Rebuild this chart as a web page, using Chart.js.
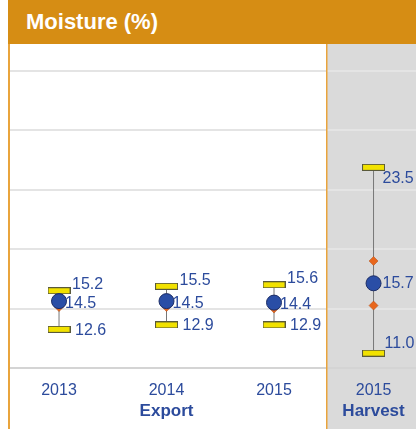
<!DOCTYPE html>
<html>
<head>
<meta charset="utf-8">
<script src="https://cdn.jsdelivr.net/npm/chart.js@4/dist/chart.umd.min.js"></script>
<style>
  html, body { margin: 0; padding: 0; background: #fff; }
  #wrap { position: relative; width: 416px; height: 429px; overflow: hidden; }
  #head {
    position: absolute; left: 8px; top: 0; width: 408px; height: 44px;
    background: #d68d14; color: #fff;
    font: bold 22px "Liberation Sans", Arial, sans-serif;
    line-height: 44px; padding-left: 18px; box-sizing: border-box;
  }
  #edge { position: absolute; left: 8px; top: 44px; width: 2px; height: 385px; background: #e9a43c; }
  #box { position: absolute; left: 10px; top: 44px; width: 406px; height: 385px; }
</style>
</head>
<body>
<div id="wrap">
  <div id="head">Moisture (%)</div>
  <div id="edge"></div>
  <div id="box"><canvas id="chart"></canvas></div>
</div>
<script>
// Moisture ranges per sample
const years = ['2013', '2014', '2015', '2015'];
const groups = ['Export', 'Harvest'];
const groupOf = [0, 0, 0, 1];
const maxVals = [15.2, 15.5, 15.6, 23.5];
const meanVals = [14.5, 14.5, 14.4, 15.7];
const minVals = [12.6, 12.9, 12.9, 11.0];
const hiVals = [14.6, 14.7, 14.6, 17.2];
const loVals = [14.1, 14.1, 14.0, 14.2];
const gridTicks = [10, 14, 18, 22, 26, 30];

// layout of the x slots (harvest sits closer, inside the grey panel)
const xSlot = [0, 1, 2, 2.926];
const panelStart = 2.493;

const blue = '#2c4b9c';
const font = '"Liberation Sans", Arial, sans-serif';

// yellow cap marker
const cap = document.createElement('canvas');
cap.width = 23; cap.height = 7;
(() => {
  const c = cap.getContext('2d');
  c.fillStyle = '#f2e200';
  c.strokeStyle = '#5a5a3a';
  c.lineWidth = 1;
  c.fillRect(0.5, 0.5, 22, 6);
  c.strokeRect(0.5, 0.5, 22, 6);
})();

const pts = (vals) => vals.map((v, i) => ({ x: xSlot[i], y: v }));

const rangeLine = [];
years.forEach((_, i) => {
  rangeLine.push({ x: xSlot[i], y: minVals[i] });
  rangeLine.push({ x: xSlot[i], y: maxVals[i] });
  rangeLine.push({ x: xSlot[i], y: null });
});

const panelPlugin = {
  id: 'panel',
  beforeDraw(chart) {
    const { ctx, scales: { x }, height, width } = chart;
    const px = x.getPixelForValue(panelStart);
    ctx.save();
    ctx.fillStyle = '#dadada';
    ctx.fillRect(px, 0, width - px, height);
    ctx.restore();
  },
  afterDraw(chart) {
    const { ctx, scales: { x }, height } = chart;
    const px = Math.round(x.getPixelForValue(panelStart));
    ctx.save();
    ctx.fillStyle = '#e9a43c';
    ctx.fillRect(px - 1, 0, 1.5, height);
    // group names under the year ticks
    ctx.fillStyle = blue;
    ctx.font = 'bold 17px ' + font;
    ctx.textAlign = 'center';
    ctx.textBaseline = 'middle';
    ctx.fillText(groups[0], x.getPixelForValue(xSlot[1]), 367);
    ctx.fillText(groups[1], x.getPixelForValue(xSlot[3]), 367);
    ctx.restore();
  },
};

const labelPlugin = {
  id: 'vals',
  afterDatasetsDraw(chart) {
    const { ctx, scales: { x, y } } = chart;
    ctx.save();
    ctx.fillStyle = blue;
    ctx.font = '16px ' + font;
    ctx.textAlign = 'left';
    ctx.textBaseline = 'middle';
    years.forEach((_, i) => {
      const px = x.getPixelForValue(xSlot[i]);
      const wide = groupOf[i] === 1;
      ctx.fillText(maxVals[i].toFixed(1), px + (wide ? 9 : 13), y.getPixelForValue(maxVals[i]) + (wide ? 11 : -6));
      ctx.fillText(meanVals[i].toFixed(1), px + (wide ? 9 : 6), y.getPixelForValue(meanVals[i]) + (wide ? 0 : 2));
      ctx.fillText(minVals[i].toFixed(1), px + (wide ? 11 : 16), y.getPixelForValue(minVals[i]) + (wide ? -10 : 1));
    });
    ctx.restore();
  },
};

new Chart(document.getElementById('chart'), {
  type: 'scatter',
  data: {
    // first dataset is painted on top
    datasets: [
      {
        data: pts(meanVals),
        pointStyle: 'circle',
        pointRadius: 7.5,
        backgroundColor: '#2a4ea6',
        borderColor: '#1c2d66',
        borderWidth: 1,
      },
      {
        data: pts(maxVals).concat(pts(minVals)),
        pointStyle: cap,
      },
      {
        data: pts(hiVals).concat(pts(loVals)),
        pointStyle: 'rectRot',
        pointRadius: 4.5,
        backgroundColor: '#e8661c',
        borderColor: '#b04a10',
        borderWidth: 0.5,
      },
      {
        data: rangeLine,
        showLine: true,
        spanGaps: false,
        borderColor: '#777',
        borderWidth: 1,
        pointRadius: 0,
      },
    ],
  },
  options: {
    responsive: true,
    maintainAspectRatio: false,
    animation: false,
    events: [],
    layout: { padding: 0, autoPadding: false },
    plugins: { legend: { display: false }, tooltip: { enabled: false } },
    scales: {
      x: {
        type: 'linear',
        min: -0.456,
        max: 3.321,
        afterBuildTicks: (s) => { s.ticks = xSlot.map((v) => ({ value: v })); },
        afterFit: (s) => { s.height = 61; },
        ticks: {
          padding: 13,
          color: blue,
          font: { size: 16, family: font },
          callback: (v, i) => years[i],
        },
        grid: { display: false, drawTicks: false },
        border: { color: '#d4d4d4', width: 2 },
      },
      y: {
        min: 10,
        max: 31.8,
        afterBuildTicks: (s) => { s.ticks = gridTicks.map((v) => ({ value: v })); },
        afterFit: (s) => { s.width = 0; },
        ticks: { display: false, padding: 0 },
        grid: { color: '#e4e4e4', lineWidth: 2, drawTicks: false },
        border: { display: false },
      },
    },
  },
  plugins: [panelPlugin, labelPlugin],
});
</script>
</body>
</html>
